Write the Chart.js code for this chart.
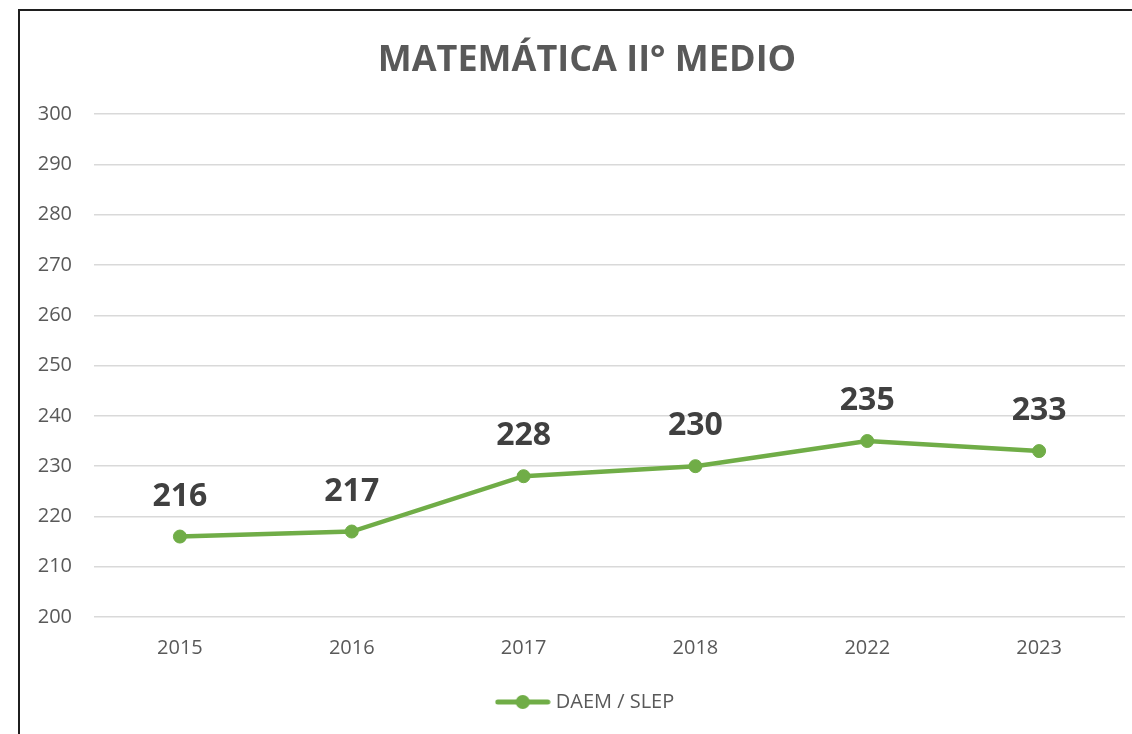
<!DOCTYPE html>
<html>
<head>
<meta charset="utf-8">
<script src="https://cdn.jsdelivr.net/npm/chart.js@4/dist/chart.umd.min.js"></script>
<style>
  html, body { margin: 0; padding: 0; overflow: hidden; background: #ffffff; }
  #wrap { position: absolute; left: 0; top: 0; width: 1160px; height: 760px; }
</style>
</head>
<body>
<div id="wrap"><canvas id="c" width="1160" height="760"></canvas></div>
<script>
// ---- data ----
const chartTitle = 'MATEMÁTICA II° MEDIO';
const categories = ['2015', '2016', '2017', '2018', '2022', '2023'];
const seriesName = 'DAEM / SLEP';
const seriesValues = [216, 217, 228, 230, 235, 233];
const yMin = 200;
const yMax = 300;
const yStep = 10;

// ---- styles ----
const green = '#70AD47';
const axisText = '#595959';
const labelText = '#404040';
const fontFamily = "'Open Sans', 'Liberation Sans', sans-serif";

// legend marker (line with dot)
const marker = document.createElement('canvas');
marker.width = 56; marker.height = 16;
(function () {
  const g = marker.getContext('2d');
  g.strokeStyle = green; g.lineWidth = 5; g.lineCap = 'round';
  g.beginPath(); g.moveTo(3, 8); g.lineTo(53, 8); g.stroke();
  g.fillStyle = green;
  g.beginPath(); g.arc(28, 8, 7, 0, Math.PI * 2); g.fill();
})();

const frame = {
  id: 'frame',
  beforeDraw(chart) {
    const ctx = chart.ctx;
    ctx.save();
    ctx.fillStyle = '#ffffff';
    ctx.fillRect(0, 0, chart.width, chart.height);
    ctx.strokeStyle = '#1f1f1f';
    ctx.lineWidth = 2;
    ctx.strokeRect(19, 10, 1136, 800);
    ctx.restore();
  }
};

const dataLabels = {
  id: 'dataLabels',
  afterDatasetsDraw(chart) {
    const ctx = chart.ctx;
    const meta = chart.getDatasetMeta(0);
    ctx.save();
    ctx.fillStyle = labelText;
    ctx.font = 'bold 32px ' + fontFamily;
    ctx.textAlign = 'center';
    ctx.textBaseline = 'middle';
    meta.data.forEach((pt, i) => {
      ctx.fillText(String(chart.data.datasets[0].data[i]), pt.x, pt.y - 40);
    });
    ctx.restore();
  }
};

new Chart(document.getElementById('c'), {
  type: 'line',
  data: {
    labels: categories,
    datasets: [{
      label: seriesName,
      data: seriesValues,
      borderColor: green,
      backgroundColor: green,
      borderWidth: 4.5,
      tension: 0,
      pointRadius: 6.5,
      pointBorderWidth: 1,
      pointBackgroundColor: green,
      pointBorderColor: green,
      pointStyle: 'circle',
      fill: false
    }]
  },
  options: {
    responsive: false,
    animation: false,
    devicePixelRatio: 1,
    layout: { padding: { left: 20, right: 6, top: 0, bottom: 38 } },
    plugins: {
      tooltip: { enabled: false },
      title: {
        display: true,
        text: chartTitle,
        color: axisText,
        font: { family: fontFamily, size: 36, weight: 'bold', lineHeight: 1.2 },
        padding: { top: 39, bottom: 32 }
      },
      legend: {
        display: true,
        position: 'bottom',
        labels: {
          usePointStyle: true,
          pointStyle: marker,
          pointStyleWidth: 46,
          color: axisText,
          padding: 10,
          font: { family: fontFamily, size: 20 },
          generateLabels(chart) {
            return [{
              text: seriesName,
              pointStyle: marker,
              fillStyle: green,
              strokeStyle: green,
              lineWidth: 0,
              fontColor: axisText,
              hidden: false,
              datasetIndex: 0
            }];
          }
        }
      }
    },
    scales: {
      x: {
        type: 'category',
        offset: true,
        grid: { display: false, drawTicks: false },
        border: { display: false },
        ticks: { color: axisText, font: { family: fontFamily, size: 20 }, padding: 19, maxRotation: 0 },
        afterFit(scale) { scale.height = 65; }
      },
      y: {
        min: yMin,
        max: yMax,
        position: 'left',
        grid: { color: '#d9d9d9', lineWidth: 1.5, drawTicks: false },
        border: { display: false },
        ticks: { stepSize: yStep, color: axisText, font: { family: fontFamily, size: 20 }, padding: 22 },
        afterFit(scale) { scale.width = 74; }
      },
      y2: {
        position: 'right',
        display: true,
        grid: { display: false, drawTicks: false },
        border: { display: false },
        ticks: { display: false },
        afterFit(scale) { scale.width = 29; }
      }
    }
  },
  plugins: [frame, dataLabels]
});
</script>
</body>
</html>
